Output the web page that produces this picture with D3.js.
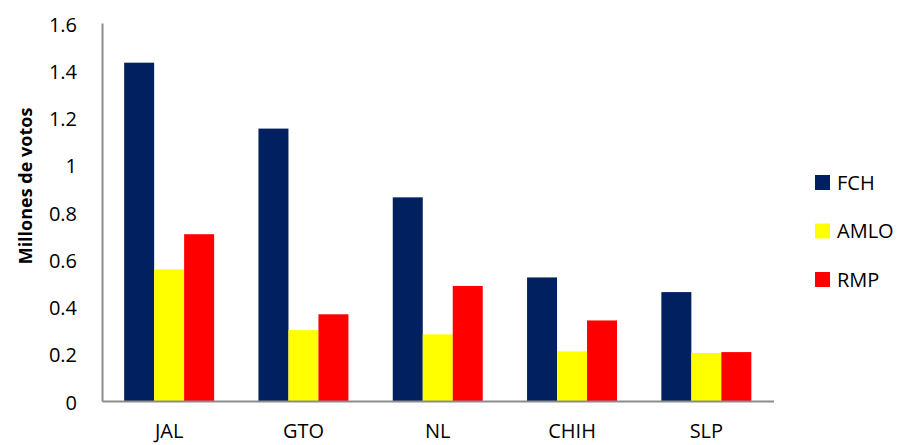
<!DOCTYPE html>
<html>
<head>
<meta charset="utf-8">
<script src="https://cdn.jsdelivr.net/npm/d3@7"></script>
<style>
  html, body { margin: 0; padding: 0; background: #fff; }
  svg { display: block; font-family: "Open Sans", "Liberation Sans", sans-serif; }
</style>
</head>
<body>
<svg id="chart" width="904" height="445"></svg>
<script>
// Votes per state (millions)
const states = ["JAL", "GTO", "NL", "CHIH", "SLP"];
const candidates = ["FCH", "AMLO", "RMP"];
const fch  = [1.432, 1.153, 0.862, 0.523, 0.461];
const amlo = [0.557, 0.300, 0.282, 0.210, 0.203];
const rmp  = [0.706, 0.367, 0.487, 0.341, 0.207];
const colors = ["#002060", "#FFFF00", "#FF0000"];
const yTicks = [0, 0.2, 0.4, 0.6, 0.8, 1, 1.2, 1.4, 1.6];

const seriesValues = [fch, amlo, rmp];
const svg = d3.select("#chart");
const fontFamily = "'Open Sans', 'Liberation Sans', sans-serif";

const plotLeft = 102, plotRight = 773.5, plotTop = 23, plotBottom = 401;

const x = d3.scaleBand().domain(states).range([plotLeft, plotRight]).paddingInner(0.33).paddingOuter(0.165);
const xs = d3.scaleBand().domain(candidates).range([0, x.bandwidth()]);
const y = d3.scaleLinear().domain([0, 1.6]).range([plotBottom, plotTop]);
const color = d3.scaleOrdinal().domain(candidates).range(colors);

// bars
const groups = svg.append("g").selectAll("g")
  .data(states)
  .join("g")
  .attr("transform", d => `translate(${x(d)},0)`);

groups.selectAll("rect")
  .data((s, i) => candidates.map((c, k) => ({ c, v: seriesValues[k][i] })))
  .join("rect")
  .attr("x", d => xs(d.c))
  .attr("width", xs.bandwidth())
  .attr("y", d => y(d.v))
  .attr("height", d => plotBottom - y(d.v))
  .attr("fill", d => color(d.c));

// y axis
const yAxis = svg.append("g")
  .attr("transform", `translate(${plotLeft},0)`)
  .call(d3.axisLeft(y).tickValues(yTicks).tickSize(0).tickPadding(25).tickFormat(d3.format("~g")));
yAxis.select(".domain").attr("stroke", "#8c8c8c").attr("stroke-width", 2);
yAxis.selectAll("text").attr("font-size", 20).attr("fill", "#000").attr("font-family", fontFamily).attr("dy", "0.4em");

// x axis
const xAxis = svg.append("g")
  .attr("transform", `translate(0,${plotBottom})`)
  .call(d3.axisBottom(x).tickSize(0).tickPadding(23));
xAxis.select(".domain").attr("stroke", "#8c8c8c").attr("stroke-width", 2);
xAxis.selectAll("text").attr("font-size", 20).attr("fill", "#000").attr("font-family", fontFamily);

// axis title
svg.append("text")
  .attr("transform", `translate(32,186) rotate(-90)`)
  .attr("text-anchor", "middle")
  .attr("font-size", 18)
  .attr("font-weight", "bold")
  .attr("font-family", fontFamily)
  .text("Millones de votos");

// legend
const legend = svg.append("g").selectAll("g")
  .data(candidates)
  .join("g")
  .attr("transform", (d, i) => `translate(815,${175 + i * 48.5})`);
legend.append("rect").attr("width", 15).attr("height", 15).attr("fill", d => color(d));
legend.append("text").attr("x", 22).attr("y", 7.5).attr("dy", "0.36em")
  .attr("font-size", 20).attr("font-family", fontFamily).text(d => d);
</script>
</body>
</html>
